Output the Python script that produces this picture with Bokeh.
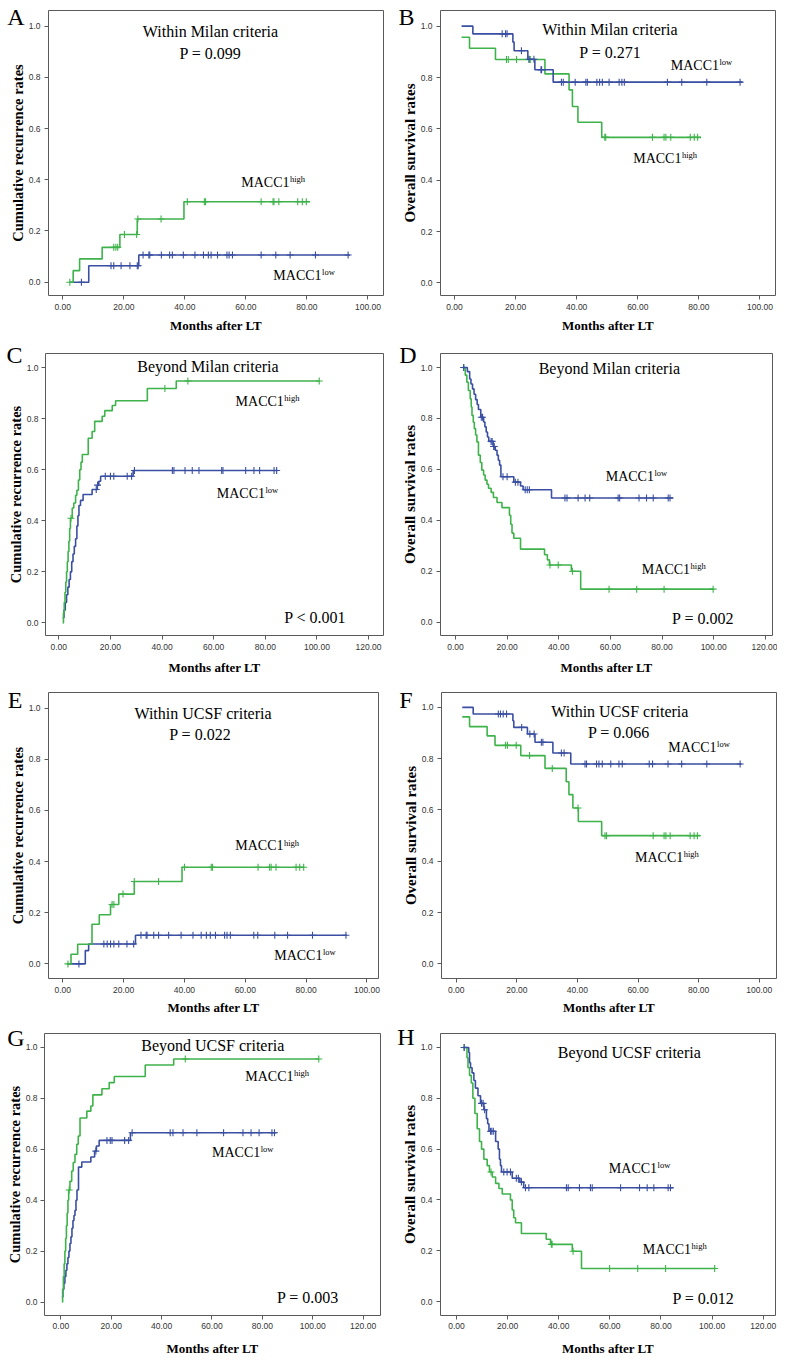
import numpy as np
from bokeh.plotting import figure
from bokeh.layouts import row, column
from bokeh.models import (Range1d, FixedTicker, NumeralTickFormatter, Label, LinearAxis,
                          CustomJSTickFormatter)
from bokeh.embed import file_html
from bokeh.resources import INLINE

GREEN = "#3fb34b"
BLUE = "#3a4fa2"
SERIF = "Liberation Serif"
SANS = "Liberation Sans"

# ---------------- data ----------------
# A: cumulative recurrence, within Milan
A_high_t = [2.3, 3.4, 5.5, 12.9, 18.7, 24.4, 39.7]
A_high_v = [0.0, 0.045, 0.091, 0.136, 0.186, 0.247, 0.314]
A_high_end = 81.0
A_high_c = [2.3, 16.7, 17.4, 18.0, 20.2, 24.2, 24.6, 32.2, 40.8, 46.4, 46.8, 65.0, 68.9, 69.2, 70.8, 77.0, 78.5, 79.8]
A_low_t = [2.3, 8.5, 24.9]
A_low_v = [0.0, 0.064, 0.106]
A_low_end = 94.1
A_low_c = [6.1, 15.8, 16.7, 19.1, 22.0, 24.4, 24.7, 26.3, 28.2, 28.5, 32.3, 35.0, 35.9, 39.5, 43.3, 46.1,
           47.7, 48.6, 50.7, 53.8, 54.5, 55.6, 65.0, 69.8, 74.5, 82.8, 93.5]

# B: overall survival, within Milan
B_low_t = [2.3, 6.0, 19.1, 19.5, 24.0, 26.3, 32.3]
B_low_v = [1.0, 0.970, 0.938, 0.904, 0.871, 0.830, 0.782]
B_low_end = 94.3
B_low_c = [15.6, 16.7, 17.2, 21.9, 24.4, 26.0, 28.3, 28.5, 35.0, 35.6, 39.5, 43.0, 43.5, 46.6, 47.5, 48.4,
           50.6, 53.9, 54.8, 55.6, 69.7, 74.4, 82.6, 93.5]
B_high_t = [2.3, 4.9, 13.4, 29.6, 37.5, 38.6, 40.4, 48.2]
B_high_v = [0.957, 0.914, 0.870, 0.814, 0.752, 0.687, 0.626, 0.567]
B_high_end = 80.7
B_high_c = [17.0, 17.6, 20.3, 24.4, 24.8, 49.2, 49.5, 64.8, 68.6, 69.2, 70.8, 77.2, 78.5, 79.6]

# C: cumulative recurrence, beyond Milan
C_high_t = [1.5, 1.8, 2.1, 2.4, 2.7, 3.0, 3.3, 3.6, 3.9, 4.2, 4.5, 5.2, 5.8, 6.5, 7.0, 7.6, 8.1, 8.6, 9.1,
            11.4, 12.9, 13.9, 16.8, 17.8, 20.7, 22.0, 34.3, 45.5]
C_high_v = [0.0, 0.04, 0.08, 0.12, 0.16, 0.2, 0.24, 0.28, 0.32, 0.37, 0.41, 0.45, 0.47, 0.5, 0.52, 0.56, 0.6,
            0.63, 0.66, 0.724, 0.75, 0.79, 0.81, 0.832, 0.852, 0.871, 0.919, 0.948]
C_high_end = 100.9
C_high_c = [4.7, 41.1, 50.0, 100.9]
C_low_t = [1.5, 2.0, 2.5, 3.0, 3.5, 4.0, 4.5, 5.0, 5.5, 6.0, 6.5, 7.0, 7.4, 7.8, 8.4, 9.4, 12.9, 14.9, 15.5,
           16.2, 28.8]
C_low_v = [0.02, 0.05, 0.08, 0.11, 0.14, 0.17, 0.2, 0.24, 0.27, 0.3, 0.33, 0.38, 0.42, 0.46, 0.48, 0.503,
           0.523, 0.54, 0.555, 0.575, 0.597]
C_low_end = 84.8
C_low_c = [14.5, 15.0, 18.0, 20.0, 21.3, 26.5, 28.2, 29.3, 44.0, 44.6, 48.9, 51.7, 54.3, 63.1, 63.6, 72.4,
           75.6, 77.8, 83.4, 84.4]

# D: overall survival, beyond Milan
D_low_t = [2.8, 4.6, 5.5, 6.0, 6.6, 7.2, 7.8, 8.4, 8.9, 9.8, 10.9, 11.4, 11.9, 12.4, 12.9, 14.6, 15.4, 16.1,
           16.6, 17.1, 17.6, 22.6, 25.2, 26.2, 37.2]
D_low_v = [1.0, 0.984, 0.955, 0.935, 0.916, 0.895, 0.874, 0.855, 0.835, 0.805, 0.786, 0.767, 0.747, 0.727,
           0.71, 0.69, 0.675, 0.656, 0.636, 0.617, 0.571, 0.55, 0.535, 0.52, 0.488]
D_low_end = 84.3
D_low_c = [3.2, 10.0, 10.5, 13.8, 14.2, 14.8, 15.0, 18.4, 20.0, 23.2, 24.2, 27.0, 27.8, 28.6, 42.4, 43.2,
           47.5, 50.2, 52.0, 63.0, 63.6, 71.1, 74.0, 76.6, 82.4, 83.1]
D_high_t = [2.8, 3.8, 4.4, 5.0, 5.7, 6.1, 6.4, 6.9, 7.3, 7.8, 8.3, 8.9, 9.6, 10.2, 10.9, 11.5, 12.2, 12.8,
            13.8, 14.7, 16.1, 18.0, 20.9, 21.4, 21.9, 22.6, 25.2, 34.5, 35.6, 36.4, 44.9, 48.5]
D_high_v = [1.0, 0.97, 0.942, 0.91, 0.877, 0.845, 0.812, 0.785, 0.76, 0.735, 0.708, 0.656, 0.627, 0.597,
            0.578, 0.558, 0.542, 0.526, 0.51, 0.49, 0.47, 0.45, 0.42, 0.385, 0.35, 0.33, 0.287, 0.265,
            0.245, 0.225, 0.2, 0.13]
D_high_end = 100.2
D_high_c = [3.2, 36.6, 39.8, 45.3, 59.5, 70.2, 80.8, 99.8]

# E: cumulative recurrence, within UCSF
E_high_t = [1.4, 2.7, 4.9, 9.6, 12.0, 15.7, 18.4, 23.5, 39.2]
E_high_v = [0.0, 0.038, 0.077, 0.155, 0.192, 0.232, 0.273, 0.322, 0.378]
E_high_end = 79.4
E_high_c = [1.7, 16.2, 16.8, 19.8, 23.5, 31.5, 40.0, 48.8, 49.2, 64.2, 68.0, 68.5, 70.1, 76.7, 77.9, 79.2]
E_low_t = [1.4, 7.4, 8.5, 23.9]
E_low_v = [0.0, 0.052, 0.078, 0.112]
E_low_end = 93.4
E_low_c = [5.3, 13.5, 14.6, 15.7, 16.8, 18.4, 21.1, 23.3, 25.7, 27.4, 27.7, 29.9, 31.5, 34.8, 38.9, 42.8,
           45.5, 47.2, 48.5, 50.2, 53.2, 54.0, 55.1, 62.8, 64.1, 69.7, 73.9, 82.1, 93.1]

# F: overall survival, within UCSF
F_low_t = [2.0, 5.6, 18.7, 19.0, 23.5, 26.0, 31.9, 37.8]
F_low_v = [1.0, 0.974, 0.948, 0.922, 0.896, 0.864, 0.822, 0.779]
F_low_end = 94.2
F_low_c = [13.9, 14.6, 15.5, 16.6, 21.6, 24.3, 25.7, 28.1, 28.6, 34.7, 35.6, 42.5, 43.0, 46.3, 47.1, 48.2,
           51.0, 53.7, 54.8, 63.7, 64.8, 69.9, 74.4, 82.7, 93.7]
F_high_t = [2.0, 4.4, 10.2, 12.8, 21.3, 29.3, 36.3, 37.2, 38.5, 40.3, 48.0]
F_high_v = [0.963, 0.925, 0.889, 0.852, 0.812, 0.762, 0.71, 0.66, 0.608, 0.555, 0.5]
F_high_end = 80.4
F_high_c = [16.3, 16.9, 19.8, 24.2, 31.7, 40.2, 49.1, 49.6, 65.0, 68.6, 69.2, 70.6, 77.2, 78.5, 79.6]

# G: cumulative recurrence, beyond UCSF
G_high_t = [0.4, 0.7, 1.0, 1.3, 1.6, 1.9, 2.2, 2.5, 2.8, 3.1, 3.6, 4.3, 4.9, 5.6, 6.3, 6.9, 7.6, 10.3,
            11.9, 12.7, 16.3, 19.2, 21.2, 33.5, 44.8]
G_high_v = [0.0, 0.05, 0.1, 0.15, 0.2, 0.25, 0.3, 0.35, 0.4, 0.44, 0.474, 0.515, 0.548, 0.58, 0.62, 0.652,
            0.723, 0.75, 0.77, 0.814, 0.838, 0.862, 0.886, 0.931, 0.955]
G_high_end = 102.4
G_high_c = [3.3, 49.4, 102.4]
G_low_t = [0.4, 0.8, 1.2, 1.6, 2.0, 2.4, 2.8, 3.2, 3.6, 4.0, 4.4, 4.8, 5.2, 5.6, 6.0, 6.4, 7.0, 8.3, 11.9,
           13.4, 14.1, 15.2, 27.6]
G_low_v = [0.02, 0.05, 0.074, 0.1, 0.125, 0.15, 0.175, 0.2, 0.23, 0.256, 0.29, 0.32, 0.34, 0.36, 0.4, 0.44,
           0.53, 0.55, 0.57, 0.593, 0.613, 0.635, 0.665]
G_low_end = 85.6
G_low_c = [13.9, 18.3, 19.6, 20.3, 25.3, 26.9, 28.3, 43.4, 44.5, 48.5, 54.0, 64.6, 72.3, 75.5, 78.7, 83.8, 84.8]

# H: overall survival, beyond UCSF
H_low_t = [2.6, 4.8, 5.1, 5.5, 6.1, 6.8, 7.4, 8.4, 9.4, 10.7, 11.7, 12.2, 12.7, 15.3, 16.3, 16.8, 17.2,
           17.6, 21.8, 24.8, 26.3]
H_low_v = [1.0, 0.98, 0.94, 0.92, 0.9, 0.87, 0.84, 0.81, 0.78, 0.755, 0.72, 0.7, 0.67, 0.63, 0.6, 0.56,
           0.535, 0.51, 0.485, 0.47, 0.448]
H_low_end = 84.8
H_low_c = [3.0, 9.8, 10.4, 11.0, 13.3, 13.8, 14.4, 18.5, 19.8, 21.1, 23.4, 24.2, 25.4, 27.0, 28.3, 43.0,
           43.7, 48.1, 52.4, 53.1, 64.2, 71.6, 74.6, 77.2, 82.8, 83.7]
H_high_t = [2.6, 4.1, 4.5, 5.1, 5.8, 6.4, 7.2, 8.1, 9.0, 9.8, 10.7, 12.0, 12.9, 14.0, 15.3, 16.6, 17.9,
            21.1, 21.8, 22.4, 23.1, 25.4, 35.1, 36.8, 45.3, 48.9]
H_high_v = [1.0, 0.96, 0.92, 0.89, 0.86, 0.8, 0.74, 0.68, 0.63, 0.6, 0.56, 0.535, 0.51, 0.49, 0.465, 0.445,
            0.423, 0.4, 0.36, 0.33, 0.31, 0.268, 0.245, 0.225, 0.198, 0.13]
H_high_end = 101.3
H_high_c = [3.0, 13.5, 37.1, 37.4, 45.6, 59.9, 70.9, 81.8, 101.0]

Y_TICKS = [0.0, 0.2, 0.4, 0.6, 0.8, 1.0]
X_TICKS_100 = [0, 20, 40, 60, 80, 100]
X_TICKS_120 = [0, 20, 40, 60, 80, 100, 120]
Y_CUM = "Cumulative recurrence rates"
Y_OS = "Overall survival rates"
X_LABEL = "Months after LT"


def level(t, v, c):
    t = np.asarray(t, dtype=float)
    v = np.asarray(v, dtype=float)
    idx = np.searchsorted(t, np.asarray(c, dtype=float), side="right") - 1
    idx = np.clip(idx, 0, len(v) - 1)
    return v[idx]


def add_curve(p, t, v, end, cens, color):
    xs = list(t) + [end]
    ys = list(v) + [v[-1]]
    p.step(xs, ys, mode="after", line_color=color, line_width=1.6)
    cy = level(t, v, cens)
    p.scatter(list(cens), list(cy), marker="cross", size=7, line_color=color, line_width=1.1)


def lab(p, x, y, text, size, align="left", x_offset=0):
    p.add_layout(Label(x=x, y=y, text=text, text_font=SERIF, text_font_size=size,
                       text_align=align, text_baseline="middle", text_color="black",
                       x_offset=x_offset))


def style_axis(ax):
    ax.axis_line_color = None
    ax.major_tick_line_color = "#5a5a5a"
    ax.major_tick_out = 4
    ax.major_tick_in = 0
    ax.minor_tick_line_color = None
    ax.major_label_text_font = SANS
    ax.major_label_text_font_size = "8.5px"
    ax.major_label_text_color = "#333333"
    ax.axis_label_text_font = SERIF
    ax.axis_label_text_font_style = "bold"
    ax.axis_label_text_color = "black"


def panel(cfg):
    W, H = cfg["size"]
    bl, br, bt, bb = cfg["border"]
    p = figure(width=W, height=H, x_range=Range1d(*cfg["xr"]), y_range=Range1d(*cfg["yr"]),
               output_backend="svg", toolbar_location=None, title=None,
               min_border_left=bl, min_border_right=br, min_border_top=bt, min_border_bottom=bb,
               background_fill_color="white", border_fill_color="white")
    p.grid.visible = False
    p.outline_line_color = "#5a5a5a"
    p.outline_line_width = 1

    p.xaxis.ticker = FixedTicker(ticks=cfg["xticks"])
    p.xaxis.formatter = NumeralTickFormatter(format="0.00")
    p.yaxis.ticker = FixedTicker(ticks=Y_TICKS)
    p.yaxis.formatter = NumeralTickFormatter(format="0.0")
    p.xaxis.axis_label = X_LABEL
    p.yaxis.axis_label = cfg["ylabel"]
    style_axis(p.xaxis[0])
    style_axis(p.yaxis[0])
    p.xaxis.axis_label_text_font_size = "13px"
    p.yaxis.axis_label_text_font_size = cfg["ysize"]
    p.xaxis.major_label_standoff = cfg["xstand"][0]
    p.xaxis.axis_label_standoff = cfg["xstand"][1]
    p.yaxis.major_label_standoff = cfg["ystand"][0]
    p.yaxis.axis_label_standoff = cfg["ystand"][1]

    # panel letter: an extra left axis with a single labelled tick, pulled back over the y label column
    letter = cfg["letter"]
    lax = LinearAxis(ticker=FixedTicker(ticks=[cfg["letter_y"]]),
                     formatter=CustomJSTickFormatter(code="return '%s';" % letter))
    lax.axis_line_color = None
    lax.major_tick_line_color = None
    lax.minor_tick_line_color = None
    lax.major_tick_out = 0
    lax.major_tick_in = 0
    lax.major_label_standoff = cfg["letter_standoff"]
    lax.major_label_text_font = SERIF
    lax.major_label_text_font_size = "24px"
    lax.major_label_text_color = "black"
    p.add_layout(lax, "left")

    for (t, v, end, c, col) in cfg["curves"]:
        add_curve(p, t, v, end, c, col)

    frame_h = H - bt - bb
    ppu = frame_h / (cfg["yr"][1] - cfg["yr"][0])
    for (txt, x, y) in cfg["texts"]:
        lab(p, x, y, txt, "16px", align="center")
    hx, hy = cfg["high"]
    lab(p, hx, hy, "MACC1", "14px")
    lab(p, hx, hy + 3.5 / ppu, "high", "8.5px", x_offset=48.7)
    lx, ly = cfg["low"]
    lab(p, lx, ly, "MACC1", "14px")
    lab(p, lx, ly + 3.5 / ppu, "low", "8.5px", x_offset=48.7)
    return p


cfgs = [
    dict(letter="A", letter_y=1.036, letter_standoff=-18,
         size=(392, 340), border=(48, 9, 10, 45), xr=(-4.69, 105.1), yr=(-0.052, 1.061),
         xticks=X_TICKS_100, ylabel=Y_CUM, ysize="14.5px", xstand=(4, 5), ystand=(4, 0),
         curves=[(A_low_t, A_low_v, A_low_end, A_low_c, BLUE), (A_high_t, A_high_v, A_high_end, A_high_c, GREEN)],
         texts=[("Within Milan criteria", 48.4, 0.9793), ("P = 0.099", 48.4, 0.8914)],
         high=(58.5, 0.3875), low=(69.0, 0.0242)),
    dict(letter="B", letter_y=1.036, letter_standoff=-16,
         size=(385, 340), border=(48, 2, 10, 45), xr=(-4.6, 105.1), yr=(-0.049, 1.061),
         xticks=X_TICKS_100, ylabel=Y_OS, ysize="15px", xstand=(4, 5), ystand=(4, 0),
         curves=[(B_high_t, B_high_v, B_high_end, B_high_c, GREEN), (B_low_t, B_low_v, B_low_end, B_low_c, BLUE)],
         texts=[("Within Milan criteria", 50.9, 0.986), ("P = 0.271", 51.0, 0.8963)],
         high=(58.5, 0.4832), low=(70.8, 0.8468)),
    dict(letter="C", letter_y=1.052, letter_standoff=-18,
         size=(392, 340), border=(45, 9, 12, 45), xr=(-5.16, 125.8), yr=(-0.0496, 1.056),
         xticks=X_TICKS_120, ylabel=Y_CUM, ysize="14.5px", xstand=(4, 7), ystand=(3, 0),
         curves=[(C_low_t, C_low_v, C_low_end, C_low_c, BLUE), (C_high_t, C_high_v, C_high_end, C_high_c, GREEN)],
         texts=[("Beyond Milan criteria", 57.8, 1.0039), ("P < 0.001", 99.3, 0.0195)],
         high=(68.5, 0.8673), low=(61.2, 0.5072)),
    dict(letter="D", letter_y=1.051, letter_standoff=-18,
         size=(385, 340), border=(48, 5, 13, 43), xr=(-5.8, 122.8), yr=(-0.052, 1.055),
         xticks=X_TICKS_120, ylabel=Y_OS, ysize="15px", xstand=(4, 7), ystand=(4, 0),
         curves=[(D_high_t, D_high_v, D_high_end, D_high_c, GREEN), (D_low_t, D_low_v, D_low_end, D_low_c, BLUE)],
         texts=[("Beyond Milan criteria", 59.6, 0.9977), ("P = 0.002", 95.9, 0.0156)],
         high=(72.2, 0.2077), low=(58.2, 0.5713)),
    dict(letter="E", letter_y=1.030, letter_standoff=-16,
         size=(392, 340), border=(48, 14, 11, 42), xr=(-4.7, 103.8), yr=(-0.057, 1.061),
         xticks=X_TICKS_100, ylabel=Y_CUM, ysize="14.5px", xstand=(4, 4), ystand=(4, 0),
         curves=[(E_low_t, E_low_v, E_low_end, E_low_c, BLUE), (E_high_t, E_high_v, E_high_end, E_high_c, GREEN)],
         texts=[("Within UCSF criteria", 46.1, 0.9805), ("P = 0.022", 45.2, 0.8963)],
         high=(56.7, 0.461), low=(69.5, 0.0323)),
    dict(letter="F", letter_y=1.030, letter_standoff=-13,
         size=(385, 340), border=(49, 1, 12, 42), xr=(-4.86, 105.7), yr=(-0.057, 1.058),
         xticks=X_TICKS_100, ylabel=Y_OS, ysize="15px", xstand=(4, 4), ystand=(4, 0),
         curves=[(F_high_t, F_high_v, F_high_end, F_high_c, GREEN), (F_low_t, F_low_v, F_low_end, F_low_c, BLUE)],
         texts=[("Within UCSF criteria", 54.0, 0.9844), ("P = 0.066", 53.7, 0.9026)],
         high=(59.0, 0.4154), low=(70.0, 0.8441)),
    dict(letter="G", letter_y=1.036, letter_standoff=-21,
         size=(392, 338), border=(44, 12, 12, 42), xr=(-6.5, 126.9), yr=(-0.053, 1.055),
         xticks=X_TICKS_120, ylabel=Y_CUM, ysize="14.5px", xstand=(3, 9), ystand=(3, 0),
         curves=[(G_low_t, G_low_v, G_low_end, G_low_c, BLUE), (G_high_t, G_high_v, G_high_end, G_high_c, GREEN)],
         texts=[("Beyond UCSF criteria", 60.3, 1.0094), ("P = 0.003", 98.1, 0.0195)],
         high=(73.2, 0.8858), low=(60.0, 0.5869)),
    dict(letter="H", letter_y=1.040, letter_standoff=-16,
         size=(385, 338), border=(48, 2, 13, 41), xr=(-6.26, 124.8), yr=(-0.055, 1.055),
         xticks=X_TICKS_120, ylabel=Y_OS, ysize="15px", xstand=(3, 9), ystand=(4, 0),
         curves=[(H_high_t, H_high_v, H_high_end, H_high_c, GREEN), (H_low_t, H_low_v, H_low_end, H_low_c, BLUE)],
         texts=[("Beyond UCSF criteria", 67.6, 0.9805), ("P = 0.012", 96.6, 0.0129)],
         high=(72.9, 0.205), low=(59.6, 0.5222)),
]

figs = [panel(c) for c in cfgs]
layout = column(row(figs[0], figs[1]), row(figs[2], figs[3]), row(figs[4], figs[5]), row(figs[6], figs[7]))

open("out.html", "w").write(file_html(layout, INLINE))
